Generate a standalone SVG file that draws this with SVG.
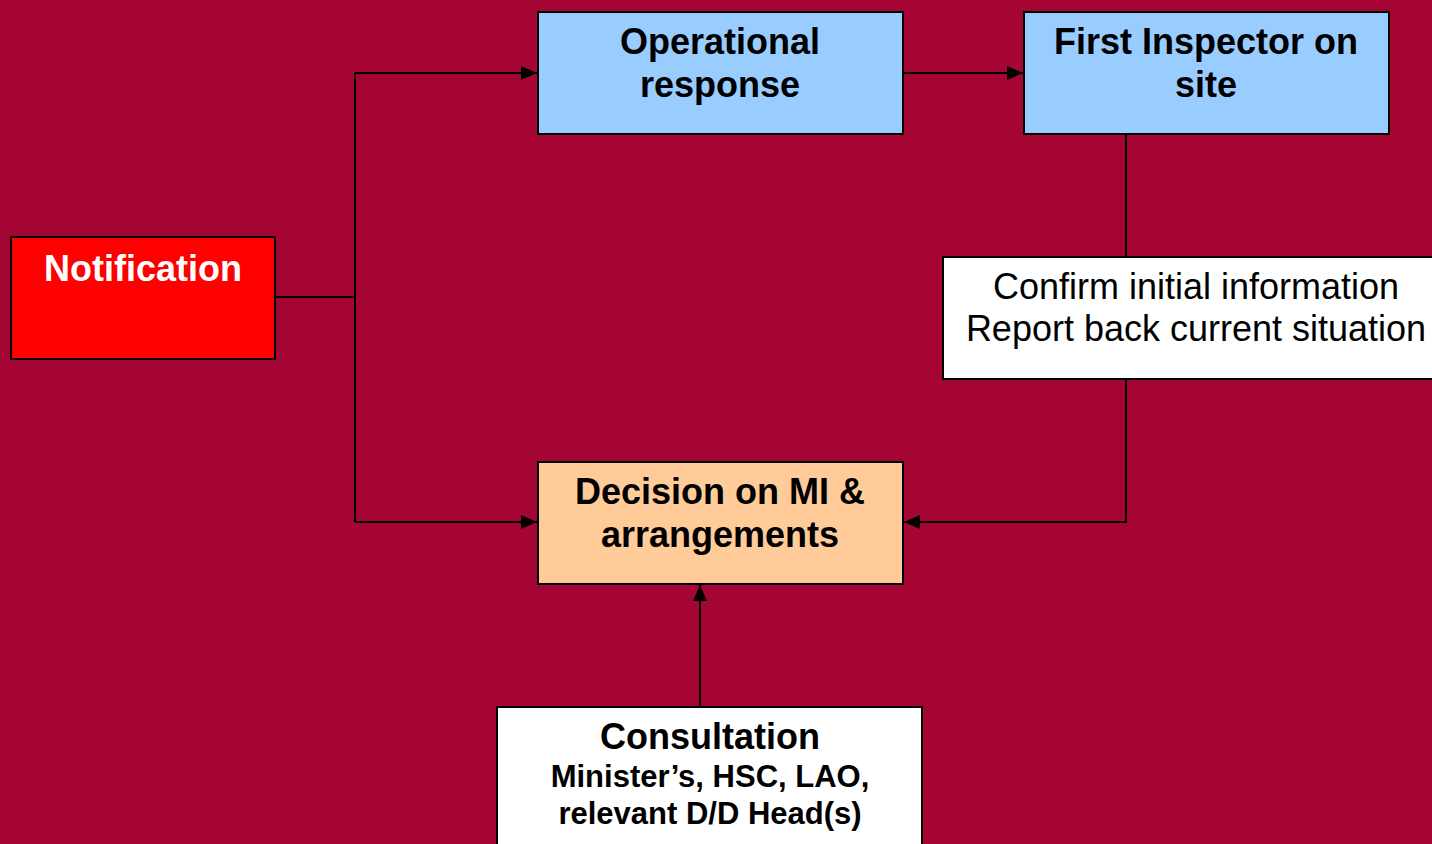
<svg xmlns="http://www.w3.org/2000/svg" width="1432" height="844" viewBox="0 0 1432 844">
<style>
.box{stroke:#000;stroke-width:2}
.t{font-family:"Liberation Sans",Arial,sans-serif;text-anchor:middle;fill:#000}
.b{font-weight:bold;font-size:36px}
.r{font-size:36px}
.s{font-weight:bold;font-size:31px}
.ln{stroke:#000;stroke-width:2;fill:none}
</style>
<defs>
<marker id="ah" markerWidth="16" markerHeight="14" refX="16" refY="7" orient="auto" markerUnits="userSpaceOnUse">
<path d="M0,0 L16,7 L0,14 Z" fill="#000"/>
</marker>
</defs>
<rect x="0" y="0" width="1432" height="844" fill="#A50533"/>
<g id="connectors">
<path class="ln" d="M275,297 H355"/>
<path class="ln" d="M355,73 V522"/>
<path class="ln" d="M355,73 H537" marker-end="url(#ah)"/>
<path class="ln" d="M355,522 H537" marker-end="url(#ah)"/>
<path class="ln" d="M903,73 H1023" marker-end="url(#ah)"/>
<path class="ln" d="M1126,134 V257"/>
<path class="ln" d="M1126,379 V522 H904" marker-end="url(#ah)"/>
<path class="ln" d="M700,707 V585" marker-end="url(#ah)"/>
</g>
<g id="notification">
<rect class="box" x="11" y="237" width="264" height="122" fill="#FF0000"/>
<text class="t b" x="143" y="281" fill="#fff" style="fill:#fff">Notification</text>
</g>
<g id="operational">
<rect class="box" x="538" y="12" width="365" height="122" fill="#99CCFF"/>
<text class="t b" x="720" y="54">Operational</text>
<text class="t b" x="720" y="97">response</text>
</g>
<g id="first-inspector">
<rect class="box" x="1024" y="12" width="365" height="122" fill="#99CCFF"/>
<text class="t b" x="1206" y="54">First Inspector on</text>
<text class="t b" x="1206" y="97">site</text>
</g>
<g id="confirm">
<rect class="box" x="943" y="257" width="510" height="122" fill="#FFFFFF"/>
<text class="t r" x="1196" y="299">Confirm initial information</text>
<text class="t r" x="1196" y="341">Report back current situation</text>
</g>
<g id="decision">
<rect class="box" x="538" y="462" width="365" height="122" fill="#FFCC99"/>
<text class="t b" x="720" y="504">Decision on MI &amp;</text>
<text class="t b" x="720" y="547">arrangements</text>
</g>
<g id="consultation">
<rect class="box" x="497" y="707" width="425" height="160" fill="#FFFFFF"/>
<text class="t b" x="710" y="749">Consultation</text>
<text class="t s" x="710" y="787">Minister’s, HSC, LAO,</text>
<text class="t s" x="710" y="824">relevant D/D Head(s)</text>
</g>
</svg>
